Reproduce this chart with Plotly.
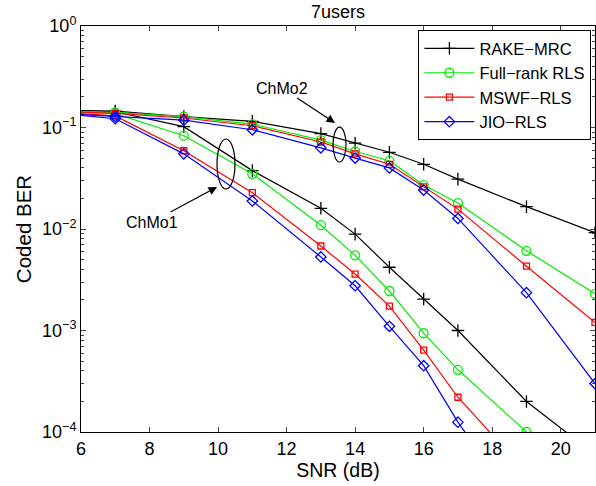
import plotly.graph_objects as go

snr = [5, 7, 9, 11, 13, 14, 15, 16, 17, 19, 21]

# ChMo1 (lower group)
rake_ch1 = [0.148, 0.143, 0.102, 0.0376, 0.016, 0.0089, 0.0042, 0.00204, 0.001, 0.0002, 6e-5]
full_ch1 = [0.146, 0.137, 0.083, 0.035, 0.0109, 0.0055, 0.00245, 0.00094, 0.00041, 0.0001, 2e-5]
mswf_ch1 = [0.145, 0.130, 0.059, 0.0228, 0.0068, 0.0036, 0.00174, 0.00064, 0.00022, 4e-5, 5e-6]
jio_ch1 = [0.142, 0.122, 0.055, 0.0189, 0.0053, 0.00276, 0.0011, 0.00045, 0.000125, 1.4e-5, 1e-6]

# ChMo2 (upper group)
rake_ch2 = [0.148, 0.145, 0.128, 0.115, 0.087, 0.070, 0.057, 0.0434, 0.031, 0.0166, 0.0092]
full_ch2 = [0.147, 0.141, 0.128, 0.108, 0.075, 0.058, 0.047, 0.0271, 0.018, 0.0061, 0.0023]
mswf_ch2 = [0.146, 0.138, 0.124, 0.104, 0.072, 0.055, 0.0434, 0.026, 0.0157, 0.0043, 0.0012]
jio_ch2 = [0.140, 0.128, 0.118, 0.095, 0.063, 0.050, 0.040, 0.0242, 0.0127, 0.00236, 0.0003]

names = ["RAKE\u2212MRC", "Full\u2212rank RLS", "MSWF\u2212RLS", "JIO\u2212RLS"]
colors = ["#000000", "#00ee00", "#ff0000", "#0000ff"]
symbols = ["cross-thin-open", "circle-open", "square-open", "diamond-open"]
sizes = [9, 9, 6, 8]

x_ticks = [6, 8, 10, 12, 14, 16, 18, 20]
y_ticks = [1, 0.1, 0.01, 0.001, 0.0001]
y_ticktext = ["10<sup>0</sup>", "10<sup>\u22121</sup>", "10<sup>\u22122</sup>",
              "10<sup>\u22123</sup>", "10<sup>\u22124</sup>"]

fig = go.Figure()
groups = [(rake_ch1, rake_ch2), (full_ch1, full_ch2), (mswf_ch1, mswf_ch2), (jio_ch1, jio_ch2)]
for i, (c1, c2) in enumerate(groups):
    for j, ys in enumerate((c1, c2)):
        fig.add_trace(go.Scatter(
            x=snr, y=ys, mode="lines+markers", name=names[i],
            legendgroup=names[i], showlegend=(j == 0),
            line=dict(color=colors[i], width=1.2),
            marker=dict(symbol=symbols[i], size=sizes[i], color=colors[i],
                        line=dict(color=colors[i], width=1.3)),
        ))

minor_vals = [m * 10 ** e for e in range(-4, 0) for m in range(2, 10)]

font = "Liberation Sans, Arial, sans-serif"
fig.update_layout(
    width=596, height=486,
    margin=dict(l=81, r=1, t=26, b=54),
    paper_bgcolor="white", plot_bgcolor="white",
    font=dict(family=font, size=18, color="black"),
    title=dict(text="7users", x=(338) / 596, xanchor="center", y=1 - 12 / 486, yanchor="middle",
               font=dict(size=18)),
    showlegend=True,
    legend=dict(x=0.993, xanchor="right", y=0.99, yanchor="top",
                bgcolor="white", bordercolor="black", borderwidth=1,
                font=dict(size=16.5), tracegroupgap=0, itemwidth=50),
    xaxis=dict(range=[6, 21], tickvals=x_ticks, ticks="inside", ticklen=5,
               showline=True, linecolor="black", linewidth=1, mirror="ticks",
               showgrid=False, zeroline=False,
               title=dict(text="SNR (dB)", font=dict(size=19.5), standoff=4),
               tickfont=dict(size=18)),
    yaxis=dict(type="log", range=[-4, 0], tickvals=y_ticks, ticktext=y_ticktext,
               ticks="inside", ticklen=5,
               showline=True, linecolor="black", linewidth=1, mirror="ticks",
               showgrid=False, zeroline=False,
               minor=dict(tickvals=minor_vals, ticks="inside", ticklen=3, showgrid=False),
               title=dict(text="Coded BER", font=dict(size=20.5), standoff=4),
               tickfont=dict(size=18)),
)

# ellipses (paper coordinates)
fig.add_shape(type="circle", xref="paper", yref="paper",
              x0=0.2646, x1=0.2996, y0=0.5985, y1=0.7217,
              line=dict(color="black", width=1.2))
fig.add_shape(type="circle", xref="paper", yref="paper",
              x0=0.4903, x1=0.5156, y0=0.665, y1=0.751,
              line=dict(color="black", width=1.2))

fig.add_annotation(xref="paper", yref="paper", x=(217 - 81) / 514, y=(432 - 187) / 406,
                   ax=-65, ay=35, text="ChMo1", showarrow=True, arrowhead=2,
                   arrowsize=1.3, arrowwidth=1.3, arrowcolor="black",
                   font=dict(size=16))
fig.add_annotation(xref="paper", yref="paper", x=(335 - 81) / 514, y=(432 - 123) / 406,
                   ax=-53, ay=-35, text="ChMo2", showarrow=True, arrowhead=2,
                   arrowsize=1.3, arrowwidth=1.3, arrowcolor="black",
                   font=dict(size=16))

fig.write_html("out.html", config={"displayModeBar": False})

# remove default page margin so the figure sits at the window origin
with open("out.html", "r", encoding="utf-8") as f:
    html = f.read()
html = html.replace("<body>", '<body style="margin:0;padding:0;overflow:hidden">', 1)
with open("out.html", "w", encoding="utf-8") as f:
    f.write(html)
